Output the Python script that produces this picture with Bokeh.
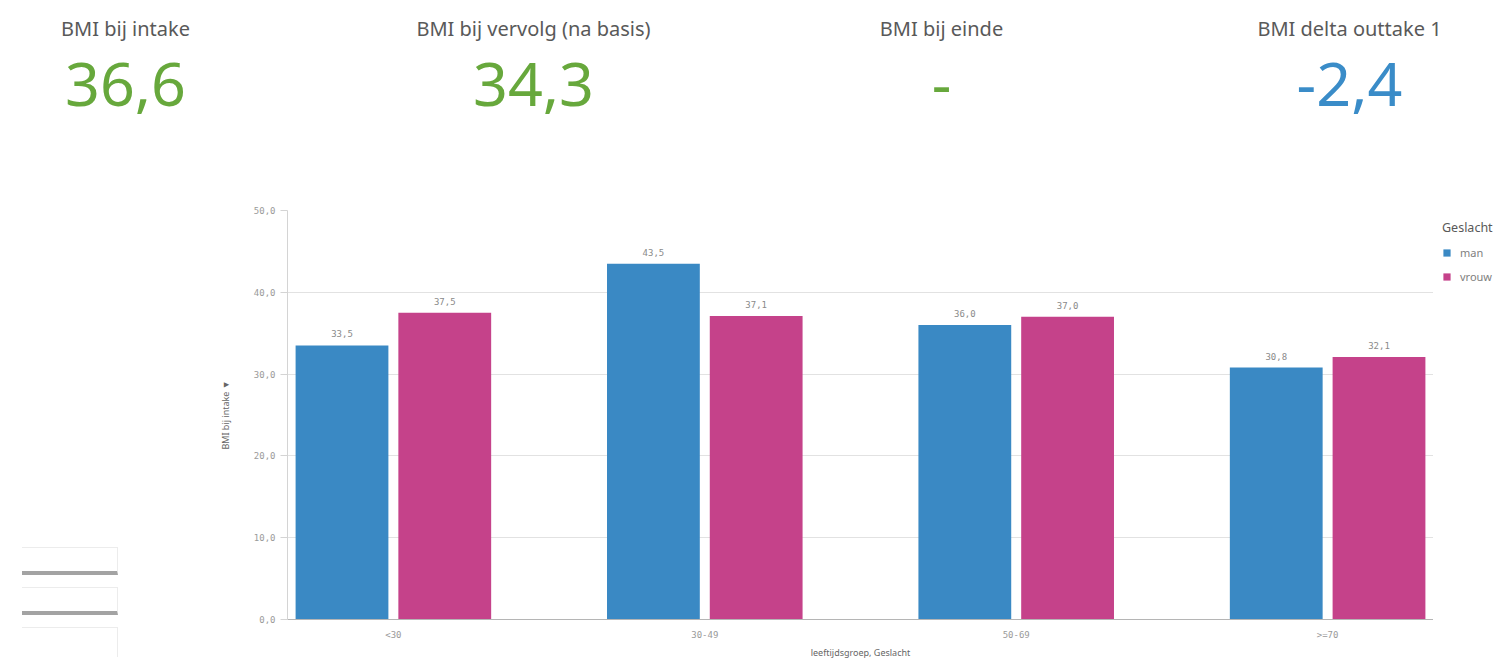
import numpy as np
from bokeh.plotting import figure
from bokeh.models import (ColumnDataSource, Range1d, Legend, LegendItem, Div,
                          FixedTicker, CustomJSTickFormatter)
from bokeh.layouts import column, row
from bokeh.core.properties import value
from bokeh.embed import file_html
from bokeh.resources import INLINE

# ---------------- data ----------------
kpi_titles = ["BMI bij intake", "BMI bij vervolg (na basis)", "BMI bij einde", "BMI delta outtake 1"]
kpi_values = ["36,6", "34,3", "-", "-2,4"]
kpi_colors = ["#67a83c", "#67a83c", "#67a83c", "#3a8cc8"]

age_groups = ["<30", "30-49", "50-69", ">=70"]
genders = ["man", "vrouw"]
bmi_man = [33.5, 43.5, 36.0, 30.8]
bmi_vrouw = [37.5, 37.1, 37.0, 32.1]
gender_colors = ["#3a89c4", "#c5428a"]

y_ticks = [0, 10, 20, 30, 40, 50]


def fmt(v):
    return f"{v:.1f}".replace(".", ",")


FONT = "Noto Sans"
W = 1495
H_TOP = 182
H_CH = 479
W_SIDE = 208
W_LG = 62
W_CH = W - W_SIDE - W_LG

# ---------------- KPI row ----------------
kpi = figure(width=W, height=H_TOP, output_backend="svg", toolbar_location=None,
             x_range=Range1d(-125 / 408, (W - 125) / 408), y_range=Range1d(H_TOP, 0),
             x_axis_location=None, y_axis_location=None, min_border=0)
kpi.grid.visible = False
kpi.outline_line_color = None
kidx = np.arange(len(kpi_titles))
ksrc = ColumnDataSource(dict(x=kidx, title=kpi_titles, val=kpi_values, color=kpi_colors,
                             ty=[28] * len(kidx), vy=[84] * len(kidx)))
kpi.text(x="x", y="ty", text="title", source=ksrc, text_align="center",
         text_baseline="alphabetic", text_font=value(FONT), text_font_size="20px",
         text_color="#595959")
kpi.text(x="x", y="vy", text="val", source=ksrc, text_align="center",
         text_baseline="alphabetic", text_font=value(FONT), text_font_size="61px",
         text_color="color")

# ---------------- bar chart ----------------
ch = figure(width=W_CH, height=H_CH, output_backend="svg", toolbar_location=None,
            x_range=Range1d(-0.34, 3.34), y_range=Range1d(0, 50),
            min_border_left=79, min_border_right=0, min_border_top=28, min_border_bottom=42)
ch.outline_line_color = None
ch.xgrid.visible = False
ch.ygrid.grid_line_color = "#e2e2e2"
ch.ygrid.ticker = FixedTicker(ticks=y_ticks)

x = np.arange(len(age_groups))
off = 0.165
bw = 0.298
series = [(bmi_man, gender_colors[0], -1), (bmi_vrouw, gender_colors[1], 1)]
for vals, col, sgn in series:
    src = ColumnDataSource(dict(x=x + sgn * off, top=vals, label=[fmt(v) for v in vals]))
    ch.vbar(x="x", top="top", width=bw, source=src, fill_color=col, line_color=None)
    ch.text(x="x", y="top", text="label", source=src, text_align="center",
            text_baseline="bottom", y_offset=-8, text_font=value("DejaVu Sans Mono"),
            text_font_size="9px", text_color="#8a8a8a")

# axes
ch.yaxis.ticker = FixedTicker(ticks=y_ticks)
ch.yaxis.formatter = CustomJSTickFormatter(code="return tick.toFixed(1).replace('.', ',')")
ch.yaxis.axis_line_color = "#d4d4d4"
ch.yaxis.major_tick_line_color = "#d4d4d4"
ch.yaxis.major_tick_out = 7
ch.yaxis.major_tick_in = 0
ch.yaxis.minor_tick_line_color = None
ch.yaxis.major_label_text_font = "DejaVu Sans Mono"
ch.yaxis.major_label_text_font_size = "9px"
ch.yaxis.major_label_text_color = "#9a9a9a"
ch.yaxis.major_label_standoff = 5
ch.yaxis.axis_label = "BMI bij intake \u25BC"
ch.yaxis.axis_label_text_font = FONT
ch.yaxis.axis_label_text_font_size = "9px"
ch.yaxis.axis_label_text_font_style = "normal"
ch.yaxis.axis_label_text_color = "#666666"
ch.yaxis.axis_label_standoff = 19

ch.xaxis.ticker = FixedTicker(ticks=list(x))
ch.xaxis.formatter = CustomJSTickFormatter(args=dict(labels=age_groups),
                                           code="return labels[Math.round(tick)]")
ch.xaxis.axis_line_color = "#b5b5b5"
ch.xaxis.major_tick_out = 0
ch.xaxis.major_tick_in = 0
ch.xaxis.minor_tick_line_color = None
ch.xaxis.major_label_text_font = "DejaVu Sans Mono"
ch.xaxis.major_label_text_font_size = "9px"
ch.xaxis.major_label_text_color = "#9a9a9a"
ch.xaxis.major_label_standoff = 10
ch.xaxis.axis_label = "leeftijdsgroep, Geslacht"
ch.xaxis.axis_label_text_font = FONT
ch.xaxis.axis_label_text_font_size = "9px"
ch.xaxis.axis_label_text_font_style = "normal"
ch.xaxis.axis_label_text_color = "#666666"
ch.xaxis.axis_label_standoff = 3

# ---------------- legend (narrow panel right of the chart) ----------------
lg = figure(width=W_LG, height=H_CH, output_backend="svg", toolbar_location=None,
            x_range=Range1d(100, 101), y_range=Range1d(0, 50),
            x_axis_location=None, y_axis_location=None,
            min_border_left=0, min_border_right=0, min_border_top=28, min_border_bottom=42)
lg.grid.visible = False
lg.outline_line_color = None
lg_r = []
for vals, col, sgn in series:
    lg_r.append(lg.vbar(x=x + sgn * off, top=vals, width=bw, fill_color=col,
                        line_color=None, visible=False))
legend = Legend(items=[LegendItem(label=g, renderers=[r]) for g, r in zip(genders, lg_r)],
                title="Geslacht", location="top_left", orientation="vertical",
                title_text_font=FONT, title_text_font_size="12.5px", title_text_color="#595959",
                title_text_font_style="normal", title_standoff=9,
                label_text_font=FONT, label_text_font_size="11px", label_text_color="#808080",
                glyph_width=9, glyph_height=9, label_standoff=9, spacing=9,
                padding=0, margin=9, border_line_color=None, background_fill_alpha=0,
                inactive_fill_alpha=0)
lg.add_layout(legend)

# ---------------- left fragments ----------------
box = ("width:96px;height:28px;border-top:1px solid #ececec;border-right:1px solid #ececec;"
       "border-bottom:4px solid #a3a3a3;margin-bottom:12px;")
last = "width:96px;height:30px;border-top:1px solid #ececec;border-right:1px solid #ececec;"
html = ('<div style="padding-top:365px;padding-left:22px;">'
        + f'<div style="{box}"></div>' * 2 + f'<div style="{last}"></div></div>')
side = Div(text=html, width=W_SIDE, height=H_CH, margin=0, styles={"overflow": "hidden"})

layout = column(kpi, row(side, ch, lg))
open("out.html", "w").write(file_html(layout, INLINE))
